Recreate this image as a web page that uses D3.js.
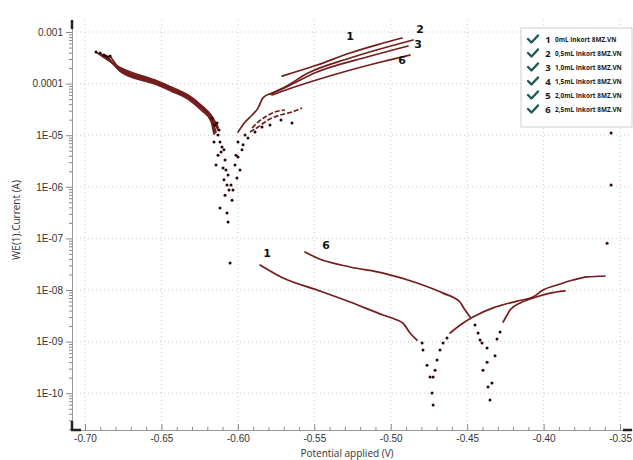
<!DOCTYPE html>
<html><head><meta charset="utf-8">
<script src="https://cdn.jsdelivr.net/npm/d3@7"></script>
<style>
body{margin:0;background:#fff;}
svg{display:block;font-family:"Open Sans","Noto Sans",sans-serif;}
</style></head>
<body><svg id="chart" width="633" height="460"></svg>
<script>
// ---------------- DATA (E in V, I in A) ----------------
const xTickValues = [-0.70,-0.65,-0.60,-0.55,-0.50,-0.45,-0.40,-0.35];
const xTickLabels = ["-0.70","-0.65","-0.60","-0.55","-0.50","-0.45","-0.40","-0.35"];
const yTickValues = [1e-3,1e-4,1e-5,1e-6,1e-7,1e-8,1e-9,1e-10];
const yTickLabels = ["0.001","0.0001","1E-05","1E-06","1E-07","1E-08","1E-09","1E-10"];
const legendNumbers = ["1","2","3","4","5","6"];
const legendLabels = ["0mL Inkort 8MZ.VN","0,5mL Inkort 8MZ.VN","1,0mL Inkort 8MZ.VN","1,5mL Inkort 8MZ.VN","2,0mL Inkort 8MZ.VN","2,5mL Inkort 8MZ.VN"];

// upper group: cathodic branches
const cath1 = [[-0.6928,4.09e-4],[-0.6764,2.0e-4],[-0.6542,1.17e-4],[-0.6437,8.6e-5],[-0.6326,6.0e-5],[-0.6241,3.85e-5],[-0.6176,2.46e-5],[-0.6130,1.44e-5]];
const cath2 = [[-0.6902,3.92e-4],[-0.6764,1.92e-4],[-0.6542,1.12e-4],[-0.6437,8.2e-5],[-0.6326,5.75e-5],[-0.6241,3.68e-5],[-0.6176,2.25e-5],[-0.6130,1.26e-5]];
const cath3 = [[-0.6876,3.58e-4],[-0.6764,1.84e-4],[-0.6542,1.07e-4],[-0.6437,7.85e-5],[-0.6326,5.5e-5],[-0.6241,3.52e-5],[-0.6176,2.15e-5],[-0.6143,1.15e-5]];
const cath4 = [[-0.6863,3.43e-4],[-0.6764,1.76e-4],[-0.6542,1.03e-4],[-0.6437,7.5e-5],[-0.6326,5.3e-5],[-0.6241,3.36e-5],[-0.6176,2.05e-5],[-0.6150,1.10e-5]];
const cath5 = [[-0.6850,3.28e-4],[-0.6764,1.68e-4],[-0.6542,9.8e-5],[-0.6437,7.2e-5],[-0.6326,5.05e-5],[-0.6241,3.08e-5],[-0.6176,1.88e-5],[-0.6156,1.05e-5]];
const cath6 = [[-0.6836,3.43e-4],[-0.6764,1.84e-4],[-0.6542,1.07e-4],[-0.6437,7.85e-5],[-0.6326,5.5e-5],[-0.6241,3.52e-5],[-0.6176,2.25e-5],[-0.6130,1.38e-5]];

// upper group: anodic branches
const anod1 = [[-0.5711,1.40e-4],[-0.5482,2.29e-4],[-0.5266,3.92e-4],[-0.5070,5.85e-4],[-0.4926,7.65e-4]];
const anod2 = [[-0.5999,1.15e-5],[-0.5953,1.80e-5],[-0.5907,2.46e-5],[-0.5868,3.36e-5],[-0.5836,5.3e-5],[-0.5777,6.6e-5],[-0.5705,8.2e-5],[-0.5541,1.60e-4],[-0.5266,3.13e-4],[-0.4854,7.0e-4]];
const anod3 = [[-0.5790,6.2e-5],[-0.5724,7.5e-5],[-0.5482,1.68e-4],[-0.5155,3.28e-4],[-0.4887,5.36e-4]];
const anod4 = [[-0.5907,1.38e-5],[-0.5868,1.80e-5],[-0.5822,2.25e-5],[-0.5757,2.82e-5],[-0.5692,3.08e-5]];
const anod5 = [[-0.5921,1.15e-5],[-0.5868,1.44e-5],[-0.5803,1.97e-5],[-0.5724,2.46e-5],[-0.5646,2.82e-5],[-0.5580,3.36e-5]];
const anod6 = [[-0.5777,6.0e-5],[-0.5705,7.2e-5],[-0.5378,1.47e-4],[-0.5090,2.51e-4],[-0.4874,3.58e-4]];

// upper group: scattered points around the corrosion potential
const upperCorrDots = [[-0.6169,2.15e-5],[-0.6136,1.72e-5],[-0.6130,1.01e-5],[-0.6117,7.4e-6],[-0.6104,5.9e-6],[-0.6130,4.1e-6],[-0.6084,3.3e-6],[-0.6091,5.2e-6],[-0.6078,2.12e-6],[-0.6064,1.69e-6],[-0.6071,1.08e-6],[-0.6058,8.7e-7],[-0.6038,5.5e-7],[-0.6117,3.9e-7],[-0.6071,3.1e-7],[-0.6064,2.08e-7],[-0.6051,3.33e-8],[-0.6006,1.48e-6],[-0.6019,2.64e-6],[-0.5999,3.8e-6],[-0.5973,5.2e-6],[-0.5999,7.4e-6],[-0.5953,1.01e-5],[-0.5646,1.72e-5],
  [-0.6150,1.58e-5],[-0.6123,1.26e-5],[-0.6156,7.4e-6],[-0.6110,4.72e-6],[-0.6143,2.64e-6],[-0.6097,2.31e-6],[-0.6091,1.37e-6],[-0.6045,1.08e-6],[-0.6084,6.9e-7],[-0.6032,8.7e-7],
  [-0.5986,2.12e-6],[-0.6012,4.1e-6],[-0.5966,6.5e-6],[-0.5934,8.8e-6],[-0.5888,1.15e-5],[-0.5842,1.44e-5],[-0.5790,1.58e-5],[-0.5718,1.97e-5]];

// lower group (curves 1 and 6)
const lowCath1 = [[-0.5855,3.05e-8],[-0.5705,1.71e-8],[-0.5482,1.0e-8],[-0.5266,5.85e-9],[-0.5050,3.28e-9],[-0.4959,2.62e-9],[-0.4920,2.29e-9],[-0.4874,1.47e-9],[-0.4828,1.07e-9]];
const lowDots1 = [[-0.4795,9.4e-10],[-0.4789,6.9e-10],[-0.4763,3.5e-10],[-0.4743,2.06e-10],[-0.4730,1.01e-10],[-0.4723,5.9e-11],[-0.4723,2.06e-10],[-0.4710,2.8e-10],[-0.4697,4.4e-10],[-0.4678,6.9e-10],[-0.4658,9.4e-10],[-0.4632,1.18e-9]];
const lowAnod1 = [[-0.4612,1.47e-9],[-0.4527,2.29e-9],[-0.4462,3.0e-9],[-0.4331,4.5e-9],[-0.4174,6.1e-9],[-0.4069,7.3e-9],[-0.4004,1.0e-8],[-0.3912,1.25e-8],[-0.3808,1.56e-8],[-0.3716,1.79e-8],[-0.3598,1.87e-8]];
const lowCath6 = [[-0.5561,5.45e-8],[-0.5482,4.17e-8],[-0.5266,2.79e-8],[-0.5050,2.13e-8],[-0.4828,1.37e-8],[-0.4658,8.7e-9],[-0.4547,5.85e-9],[-0.4527,4.7e-9],[-0.4481,3.0e-9]];
const lowDots6 = [[-0.4449,2.1e-9],[-0.4429,1.47e-9],[-0.4416,1.07e-9],[-0.4403,9.4e-10],[-0.4370,7.5e-10],[-0.4370,4.0e-10],[-0.4397,2.8e-10],[-0.4364,1.32e-10],[-0.4351,7.4e-11],[-0.4338,1.58e-10],[-0.4318,5.3e-10],[-0.4305,1.12e-9],[-0.4285,1.54e-9]];
const lowAnod6 = [[-0.4265,2.4e-9],[-0.4239,3.28e-9],[-0.4220,4.1e-9],[-0.4154,5.6e-9],[-0.4069,7.0e-9],[-0.3958,8.7e-9],[-0.3860,9.6e-9]];

// isolated points near the right edge
const strayDots = [[-0.3559,1.10e-5],[-0.3559,1.08e-6],[-0.3585,8.1e-8]];

// curve number annotations
const annotNames = ["1","2","3","6","1","6"];
const annotPoints = [[-0.5266,7.0e-4],[-0.4808,9.6e-4],[-0.4822,4.9e-4],[-0.4926,2.4e-4],[-0.5809,4.4e-8],[-0.5423,6.2e-8]];

// ---------------- CHART ----------------
const svg = d3.select("#chart");
const x = d3.scaleLinear().domain([-0.7085, -0.3422]).range([72, 632]);
const y = d3.scaleLog().domain([Math.pow(10,-10.713), Math.pow(10,-2.767)]).range([430, 20]);
const [x0, x1] = x.range();
const [yb, yt] = y.range();

// gridlines
const grid = svg.append("g").attr("stroke","#c9c9c9").attr("stroke-width",1).attr("stroke-dasharray","1,3");
grid.selectAll(".gx").data(xTickValues).join("line")
  .attr("x1",d=>x(d)).attr("x2",d=>x(d)).attr("y1",yt).attr("y2",yb);
grid.selectAll(".gy").data(yTickValues).join("line")
  .attr("x1",x0).attr("x2",x1).attr("y1",d=>y(d)).attr("y2",d=>y(d));

// minor tick values
const yMinor = [];
yTickValues.concat([1e-11]).forEach(v => { for (let k=2;k<=9;k++){ const m=v*k; if (y(m)>=yt && y(m)<=yb) yMinor.push(m);} });
const xMinor = [];
for (let i=0;i<xTickValues.length;i++){ for(let k=1;k<5;k++){ const m = xTickValues[i]+k*0.01; if (x(m)<x1-2) xMinor.push(m);} }

// Y axis
const yAxisG = svg.append("g").attr("transform",`translate(${x0},0)`);
yAxisG.call(d3.axisLeft(y).tickValues(yMinor).tickFormat("").tickSize(3).tickSizeOuter(0));
yAxisG.call(g=>g.select(".domain").remove());
const yMaj = svg.append("g").attr("transform",`translate(${x0},0)`)
  .call(d3.axisLeft(y).tickValues(yTickValues).tickFormat((d,i)=>yTickLabels[i]).tickSize(6).tickPadding(3).tickSizeOuter(0));
yMaj.select(".domain").attr("stroke","#999");
svg.selectAll(".tick line").attr("stroke","#888");
yMaj.selectAll("text").attr("font-size",10).attr("fill","#333");

// X axis
const xAxisG = svg.append("g").attr("transform",`translate(0,${yb})`);
xAxisG.call(d3.axisBottom(x).tickValues(xMinor).tickFormat("").tickSize(-3).tickSizeOuter(0));
xAxisG.select(".domain").remove();
xAxisG.selectAll("line").attr("stroke","#888");
const xMaj = svg.append("g").attr("transform",`translate(0,${yb})`)
  .call(d3.axisBottom(x).tickValues(xTickValues).tickFormat((d,i)=>xTickLabels[i]).tickSize(-6).tickPadding(5).tickSizeOuter(0));
xMaj.select(".domain").attr("stroke","#999");
xMaj.selectAll("line").attr("stroke","#888");
xMaj.selectAll("text").attr("font-size",10).attr("fill","#333");

// thick axis end markers
const ends = svg.append("g").attr("stroke","#222").attr("stroke-width",2.5).attr("fill","none");
ends.append("path").attr("d",`M${x0},${yt}V${yt+9}`);
ends.append("path").attr("d",`M${x0},${yb-9}V${yb}H${x0+9}`);
ends.append("path").attr("d",`M${x1-9},${yb}H${x1}`);

// axis titles
svg.append("text").attr("x",(x0+x1)/2-5).attr("y",457).attr("text-anchor","middle")
  .attr("font-size",10).attr("fill","#333").text("Potential applied (V)");
svg.append("text").attr("transform",`translate(20,${(yt+yb)/2-5}) rotate(-90)`).attr("text-anchor","middle")
  .attr("font-size",10).attr("fill","#333").text("WE(1).Current (A)");

// curves
const lineColor = "#731d1d", dotColor = "#2b0808";
const line = d3.line().x(d=>x(d[0])).y(d=>y(d[1])).curve(d3.curveMonotoneX);
const solidSeries = [cath1,cath2,cath3,cath4,cath5,cath6,anod1,anod2,anod3,anod6,lowCath1,lowAnod1,lowCath6,lowAnod6];
const brokenSeries = [anod4, anod5];
const curves = svg.append("g");
curves.selectAll("path.s").data(solidSeries).join("path").attr("class","s")
  .attr("d",line).attr("fill","none").attr("stroke",lineColor).attr("stroke-width",1.7).attr("stroke-linecap","round");
curves.selectAll("path.b").data(brokenSeries).join("path").attr("class","b")
  .attr("d",line).attr("fill","none").attr("stroke",lineColor).attr("stroke-width",1.7).attr("stroke-dasharray","5,2");

const dotSeries = [upperCorrDots, lowDots1, lowDots6, strayDots,
  [cath1[0]],[cath2[0]],[cath3[0]],[cath4[0]],[cath5[0]],[cath6[0]]];
const dots = svg.append("g").attr("fill",dotColor);
dotSeries.forEach(s => {
  dots.selectAll(null).data(s).join("circle").attr("cx",d=>x(d[0])).attr("cy",d=>y(d[1])).attr("r",1.5);
});

// annotations
svg.append("g").selectAll("text").data(annotPoints).join("text")
  .attr("x",d=>x(d[0])).attr("y",d=>y(d[1])).attr("text-anchor","middle")
  .attr("font-size",11).attr("font-weight","bold").attr("fill","#111").attr("font-family","DejaVu Sans, sans-serif")
  .text((d,i)=>annotNames[i]);

// legend
const lg = svg.append("g");
lg.append("rect").attr("x",521).attr("y",28).attr("width",111).attr("height",99)
  .attr("fill","#fff").attr("stroke","#cfcfcf").attr("stroke-width",1);
const rows = lg.selectAll("g.row").data(legendLabels).join("g").attr("class","row")
  .attr("transform",(d,i)=>`translate(0,${40+i*14})`);
rows.append("path").attr("d","M528,-1 L531.5,2.5 L538,-4.5").attr("fill","none")
  .attr("stroke","#1f5a5a").attr("stroke-width",2.4).attr("stroke-linecap","round").attr("stroke-linejoin","round");
rows.append("text").attr("x",548).attr("y",3).attr("text-anchor","middle").attr("font-size",9.5)
  .attr("font-weight","bold").attr("fill","#1a1a1a").text((d,i)=>legendNumbers[i]);
rows.append("text").attr("x",555).attr("y",2).attr("font-size",6.4).attr("font-weight","bold")
  .attr("fill","#1a1a1a").text(d=>d);
</script>
</body></html>
